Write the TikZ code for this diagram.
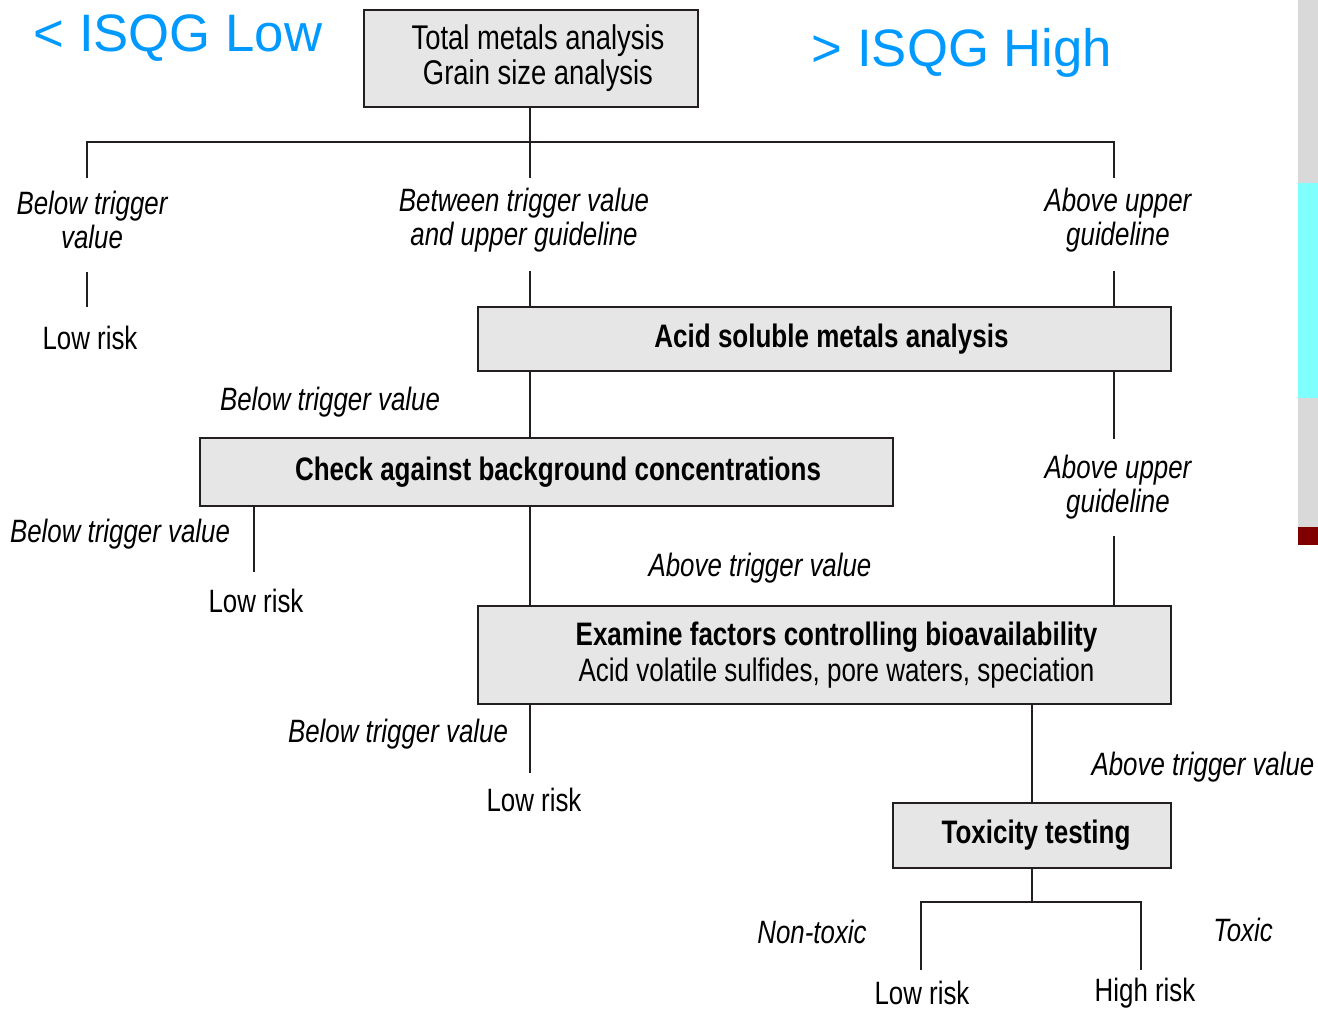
\documentclass[tikz,border=0pt]{standalone}
\usepackage{fontspec}
\setmainfont{Liberation Sans}
\newfontfamily\narrowfont[FakeStretch=0.80]{Liberation Sans}
\definecolor{isqgblue}{RGB}{0,153,255}
\definecolor{boxgray}{RGB}{230,230,230}
\definecolor{ink}{RGB}{35,31,32}
\definecolor{bargray}{RGB}{217,217,217}
\definecolor{barcyan}{RGB}{128,255,255}
\definecolor{barred}{RGB}{128,0,0}
\begin{document}
\begin{tikzpicture}[x=0.02cm,y=-0.02cm,line width=0.055cm,
  box/.style={draw=ink,fill=boxgray,align=center,inner sep=0pt,font=\narrowfont\fontsize{19.5}{20}\selectfont},
  boldbox/.style={box,font=\narrowfont\bfseries\fontsize{18.5}{20}\selectfont},
  lbl/.style={align=center,inner sep=0pt,font=\narrowfont\itshape\fontsize{18.4}{19}\selectfont},
  risk/.style={inner sep=0pt,font=\narrowfont\fontsize{18.4}{22}\selectfont},
  isqg/.style={inner sep=0pt,text=isqgblue,font=\fontsize{30}{36}\selectfont}]
\useasboundingbox (0,0) rectangle (1318,1009);
% side bar
\fill[bargray] (1298,0) rectangle (1318,545);
\fill[barcyan] (1298,183) rectangle (1318,398);
\fill[barred] (1298,527) rectangle (1318,545);
% headings
\node[isqg] at (178,38) (low) {< ISQG Low};
\node[isqg] at (962,53) (high) {> ISQG High};
% boxes
\node[box,minimum width=6.68cm,minimum height=1.94cm] at (531,58.5) (total) {\hspace*{0.28cm}Total metals analysis\\\hspace*{0.28cm}Grain size analysis};
\node[boldbox,minimum width=13.86cm,minimum height=1.28cm] at (824.5,339) (acid) {\hspace*{0.28cm}Acid soluble metals analysis};
\node[boldbox,minimum width=13.86cm,minimum height=1.36cm] at (546.5,472) (check) {\hspace*{0.46cm}Check against background concentrations};
\node[box,minimum width=13.86cm,minimum height=1.96cm,font=\narrowfont\fontsize{18.5}{20.5}\selectfont] at (824.5,655) (examine) {\hspace*{0.48cm}\textbf{Examine factors controlling bioavailability}\\\hspace*{0.48cm}Acid volatile sulfides, pore waters, speciation};
\node[boldbox,minimum width=5.56cm,minimum height=1.3cm] at (1032,835.5) (tox) {\hspace*{0.16cm}Toxicity testing};
% labels
\node[lbl] at (92,220) (belowA) {Below trigger\\value};
\node[lbl] at (524,220) (between) {Between trigger value\\and upper guideline};
\node[lbl] at (1118,220) (aboveA) {Above upper\\guideline};
\node[lbl] at (330,402) (belowB) {Below trigger value};
\node[lbl] at (1118,487) (aboveB) {Above upper\\guideline};
\node[lbl] at (120,534) (belowC) {Below trigger value};
\node[lbl] at (760,568) (aboveC) {Above trigger value};
\node[lbl] at (398,734) (belowD) {Below trigger value};
\node[lbl] at (1203,767) (aboveD) {Above trigger value};
\node[lbl] at (812,932) (nontox) {Non-toxic};
\node[lbl] at (1243,930) (toxic) {Toxic};
\node[risk] at (90,338) (riskA) {Low risk};
\node[risk] at (256,601) (riskB) {Low risk};
\node[risk] at (534,800) (riskC) {Low risk};
\node[risk] at (922,993) (riskD) {Low risk};
\node[risk] at (1145,993) (riskE) {High risk};
% connectors
\coordinate (bar) at (530,142);
\coordinate (barL) at (87,142);
\coordinate (barR) at (1114,142);
\coordinate (stemL) at (87,272);
\coordinate (forkL) at (921,902);
\coordinate (forkR) at (1141,902);
\draw[ink] (total.south -| bar) -- (bar);
\draw[ink] (barL) ++(0,36) -- (barL) -- (barR) -- ++(0,36);
\draw[ink] (bar) -- ++(0,36);
\draw[ink] (stemL) -- ++(0,35);
\draw[ink] (acid.north -| bar) -- ++(0,-35);
\draw[ink] (acid.north -| barR) -- ++(0,-35);
\draw[ink] (acid.south -| bar) -- (check.north -| bar);
\draw[ink] (acid.south -| barR) -- ++(0,67);
\draw[ink] (examine.north -| barR) -- ++(0,-69);
\draw[ink] (check.south -| 254,0) -- ++(0,65);
\draw[ink] (check.south -| bar) -- (examine.north -| bar);
\draw[ink] (examine.south -| bar) -- ++(0,68);
\draw[ink] (examine.south -| tox) -- (tox.north);
\draw[ink] (tox.south) -- (tox.south |- forkL);
\draw[ink] (forkL) ++(0,68) -- (forkL) -- (forkR) -- ++(0,68);
\end{tikzpicture}
\end{document}
